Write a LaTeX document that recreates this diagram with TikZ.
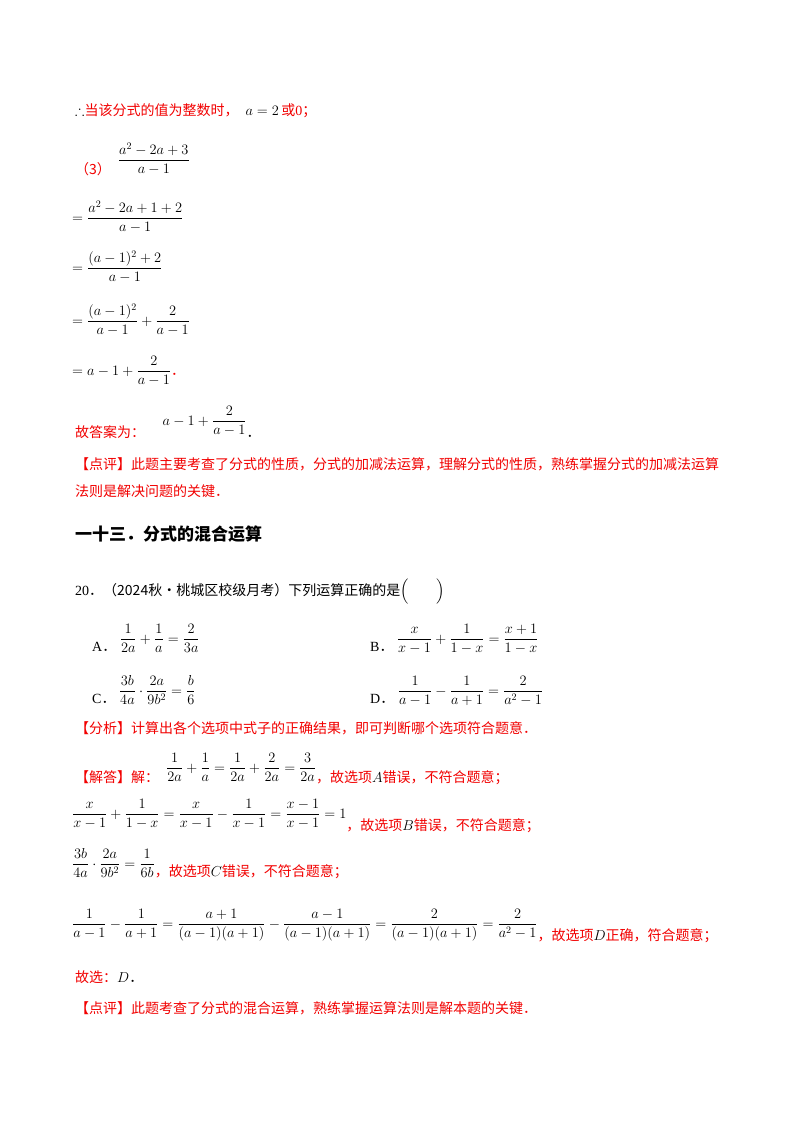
\documentclass[tikz,border=0pt]{standalone}
\usepackage{amsmath,amssymb}
\usepackage{fontspec}
\setmainfont{Liberation Serif}
\newfontfamily\cjk{Noto Sans CJK SC}
\definecolor{rd}{HTML}{F20000}
\begin{document}
\begin{tikzpicture}[x=1pt,y=-1pt,
  ln/.style={anchor=base west,inner sep=0pt,font=\fontsize{14}{16}\selectfont}]
\useasboundingbox (0,0) rectangle (800,1132);
\fill[white] (0,0) rectangle (800,1132);
\newcommand\R[1]{\textcolor{rd}{\cjk #1}}
\newcommand\dt{{\cjk ．}}
\node[ln] (l1) at (75,115) {$\therefore$\R{当该分式的值为整数时，}\ \ $a=2$\,\R{或}\textcolor{rd}{0}\R{；}};
\node[ln] (l2) at (75,174) {\R{（3）}\ \ $\raisebox{10pt}{$\dfrac{a^2-2a+3}{a-1}$}$};
\node[ln] (l3) at (72,222) {$=\dfrac{a^2-2a+1+2}{a-1}$};
\node[ln] (l4) at (72,272) {$=\dfrac{(a-1)^2+2}{a-1}$};
\node[ln] (l5) at (72,325) {$=\dfrac{(a-1)^2}{a-1}+\dfrac{2}{a-1}$};
\node[ln] (l6) at (72,375) {$=a-1+\dfrac{2}{a-1}$\R{．}};
\node[ln] (l7) at (75,437) {\R{故答案为：}\ \ \ \ \ $\raisebox{12pt}{$a-1+\dfrac{2}{a-1}$}$\dt};
\node[ln] (l8) at (75,469) {\R{【点评】此题主要考查了分式的性质，分式的加减法运算，理解分式的性质，熟练掌握分式的加减法运算}};
\node[ln] (l9) at (75,496) {\R{法则是解决问题的关键．}};
\node[ln,font=\fontsize{17}{20}\selectfont\bfseries] (h) at (75,540) {\cjk 一十三．分式的混合运算};
\node[ln] (q) at (75,595) {20\dt{\cjk （2024秋•桃城区校级月考）下列运算正确的是}$\Big(\qquad\Big)$};
\node[ln] (A) at (92,651) {A\dt\ $\raisebox{8pt}{$\dfrac{1}{2a}+\dfrac{1}{a}=\dfrac{2}{3a}$}$};
\node[ln] (B) at (370,651) {B\dt\ $\raisebox{8pt}{$\dfrac{x}{x-1}+\dfrac{1}{1-x}=\dfrac{x+1}{1-x}$}$};
\node[ln] (C) at (92,703) {C\dt\ $\raisebox{8pt}{$\dfrac{3b}{4a}\cdot\dfrac{2a}{9b^2}=\dfrac{b}{6}$}$};
\node[ln] (D) at (370,703) {D\dt\ $\raisebox{8pt}{$\dfrac{1}{a-1}-\dfrac{1}{a+1}=\dfrac{2}{a^2-1}$}$};
\node[ln] (f) at (75,733) {\R{【分析】计算出各个选项中式子的正确结果，即可判断哪个选项符合题意．}};
\node[ln] (s1) at (75,782) {\R{【解答】解：}\ \ $\raisebox{10pt}{$\dfrac{1}{2a}+\dfrac{1}{a}=\dfrac{1}{2a}+\dfrac{2}{2a}=\dfrac{3}{2a}$}$\R{，故选项}$A$\R{错误，不符合题意；}};
\node[ln] (s2) at (72,818) {$\dfrac{x}{x-1}+\dfrac{1}{1-x}=\dfrac{x}{x-1}-\dfrac{1}{x-1}=\dfrac{x-1}{x-1}=1$\raisebox{-12pt}{\R{，故选项}$B$\R{错误，不符合题意；}}};
\node[ln] (s3) at (72,868) {$\dfrac{3b}{4a}\cdot\dfrac{2a}{9b^2}=\dfrac{1}{6b}$\raisebox{-8pt}{\R{，故选项}$C$\R{错误，不符合题意；}}};
\node[ln] (s4) at (72,928) {$\dfrac{1}{a-1}-\dfrac{1}{a+1}=\dfrac{a+1}{(a-1)(a+1)}-\dfrac{a-1}{(a-1)(a+1)}=\dfrac{2}{(a-1)(a+1)}=\dfrac{2}{a^2-1}$\raisebox{-12pt}{\R{，故选项}$D$\R{正确，符合题意；}}};
\node[ln] (s5) at (75,982) {\R{故选：}$D$\dt};
\node[ln] (s6) at (75,1013) {\R{【点评】此题考查了分式的混合运算，熟练掌握运算法则是解本题的关键．}};
\end{tikzpicture}
\end{document}
